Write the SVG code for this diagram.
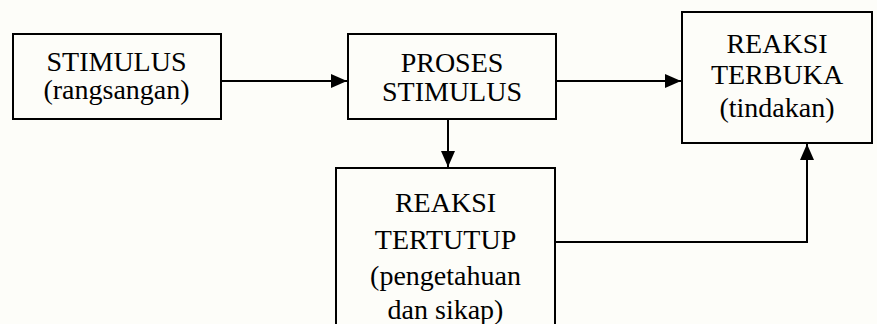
<svg xmlns="http://www.w3.org/2000/svg" width="877" height="324" viewBox="0 0 877 324">
  <style>
    .box { fill: none; stroke: #000; stroke-width: 2; }
    .lbl { font-family: "Liberation Serif", "Times New Roman", serif; font-size: 28px; fill: #000; text-anchor: middle; }
    .con { fill: none; stroke: #000; stroke-width: 2; }
  </style>
  <defs>
    <marker id="ah" markerUnits="userSpaceOnUse" markerWidth="16" markerHeight="14" refX="16" refY="7" orient="auto">
      <path d="M0,0 L16,7 L0,14 z" fill="#000"/>
    </marker>
  </defs>
  <rect x="0" y="0" width="877" height="324" fill="#fdfdf9"/>
  <g id="connectors">
    <line class="con" x1="222" y1="81" x2="347" y2="81" marker-end="url(#ah)"/>
    <line class="con" x1="556" y1="81" x2="681" y2="81" marker-end="url(#ah)"/>
    <line class="con" x1="448" y1="120" x2="448" y2="167" marker-end="url(#ah)"/>
    <polyline class="con" points="555,242 807,242 807,144" marker-end="url(#ah)"/>
  </g>
  <g id="stimulus">
    <rect class="box" x="13" y="34" width="208" height="85"/>
    <text class="lbl" x="116.5" y="71">STIMULUS</text>
    <text class="lbl" x="116.5" y="99">(rangsangan)</text>
  </g>
  <g id="proses-stimulus">
    <rect class="box" x="348" y="34" width="208" height="85"/>
    <text class="lbl" x="452" y="72">PROSES</text>
    <text class="lbl" x="452" y="101">STIMULUS</text>
  </g>
  <g id="reaksi-terbuka">
    <rect class="box" x="682" y="12" width="190" height="131"/>
    <text class="lbl" x="777" y="53">REAKSI</text>
    <text class="lbl" x="777" y="84">TERBUKA</text>
    <text class="lbl" x="777" y="117">(tindakan)</text>
  </g>
  <g id="reaksi-tertutup">
    <rect class="box" x="336" y="168" width="219" height="180"/>
    <text class="lbl" x="445.5" y="212">REAKSI</text>
    <text class="lbl" x="445.5" y="249">TERTUTUP</text>
    <text class="lbl" x="445.5" y="285">(pengetahuan</text>
    <text class="lbl" x="445.5" y="319">dan sikap)</text>
  </g>
</svg>
